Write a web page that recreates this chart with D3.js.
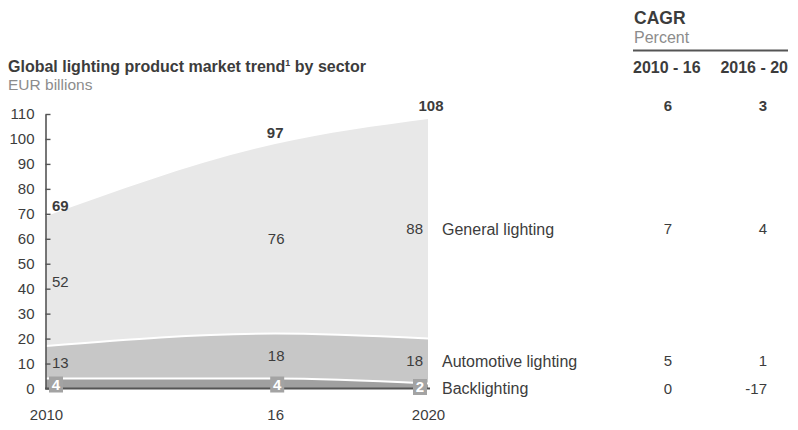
<!DOCTYPE html>
<html>
<head>
<meta charset="utf-8">
<script src="https://cdn.jsdelivr.net/npm/d3@7"></script>
<style>
  html, body { margin: 0; padding: 0; background: #fff; }
  svg { display: block; font-family: "Liberation Sans", Arial, sans-serif; }
</style>
</head>
<body>
<svg id="chart" width="798" height="430"></svg>
<script>
// ---- data ----
const years = [2010, 2016, 2020];
const yearLabels = ["2010", "16", "2020"];
const sectors = ["Backlighting", "Automotive lighting", "General lighting"];
const backlighting = [4, 4, 2];
const automotive = [13, 18, 18];
const general = [52, 76, 88];
const totals = [69, 97, 108];
const yTicks = [0, 10, 20, 30, 40, 50, 60, 70, 80, 90, 100, 110];
const cagrPeriods = ["2010 - 16", "2016 - 20"];
const cagrTotal = [6, 3];
const cagrGeneral = [7, 4];
const cagrAutomotive = [5, 1];
const cagrBacklighting = [0, -17];

// ---- setup ----
const svg = d3.select("#chart");
const ink = "#3c3c3c";
const grey = "#8c8c8c";
const numSize = 15;   // numbers
const wordSize = 16;  // words
const colors = {
  "Backlighting": "#a0a0a0",
  "Automotive lighting": "#c7c7c7",
  "General lighting": "#e8e8e8"
};

const x = d3.scaleLinear().domain([2010, 2020]).range([46, 428]);
const y = d3.scaleLinear().domain([0, 110]).range([388.5, 114]);

const rows = years.map((yr, i) => ({
  year: yr,
  "Backlighting": backlighting[i],
  "Automotive lighting": automotive[i],
  "General lighting": general[i]
}));
const series = d3.stack().keys(sectors)(rows);
const byKey = {};
series.forEach(s => byKey[s.key] = s);

// ---- titles ----
const title = svg.append("text").attr("x", 8).attr("y", 72)
  .attr("font-size", 16).attr("font-weight", "bold").attr("fill", ink);
title.append("tspan").text("Global lighting product market trend");
title.append("tspan").text("1").attr("font-size", 9).attr("dy", -6);
title.append("tspan").text(" by sector").attr("dy", 6);
svg.append("text").attr("x", 8).attr("y", 90).attr("font-size", 15.5)
  .attr("fill", grey).text("EUR billions");

// ---- stacked areas ----
const area = d3.area()
  .x(d => x(d.data.year))
  .y0(d => y(d[0]))
  .y1(d => y(d[1]))
  .curve(d3.curveMonotoneX);

svg.append("g").selectAll("path").data(series).join("path")
  .attr("d", area)
  .attr("fill", d => colors[d.key]);

// white separators on top of the lower two layers
const topLine = d3.line()
  .x(d => x(d.data.year))
  .y(d => y(d[1]))
  .curve(d3.curveMonotoneX);
svg.append("g").selectAll("path")
  .data(series.filter(s => s.key !== "General lighting"))
  .join("path")
  .attr("d", topLine)
  .attr("fill", "none")
  .attr("stroke", "#fff")
  .attr("stroke-width", 2);

// ---- axes ----
const yAxis = svg.append("g")
  .attr("transform", `translate(${x(2010) - 0.5},0)`)
  .call(d3.axisLeft(y).tickValues(yTicks).tickSizeInner(-5).tickSizeOuter(0).tickPadding(11));
yAxis.select(".domain").attr("stroke", "#555").attr("stroke-width", 1.6);
yAxis.selectAll(".tick line").attr("stroke", "#555").attr("stroke-width", 1.4);
yAxis.selectAll(".tick text").attr("font-size", numSize).attr("fill", ink)
  .attr("font-family", "Liberation Sans, Arial, sans-serif");

// baseline
svg.append("line")
  .attr("x1", x(2010) - 1).attr("x2", x(2020) + 2)
  .attr("y1", y(0)).attr("y2", y(0))
  .attr("stroke", "#555").attr("stroke-width", 1.8);

const xAxis = svg.append("g")
  .attr("transform", `translate(0,${y(0)})`)
  .call(d3.axisBottom(x).tickValues(years)
    .tickFormat((d, i) => yearLabels[i]).tickSize(0).tickPadding(21));
xAxis.select(".domain").remove();
xAxis.selectAll(".tick text").attr("font-size", numSize).attr("fill", ink)
  .attr("font-family", "Liberation Sans, Arial, sans-serif");

// ---- value labels ----
const anchors = ["start", "middle", "end"];
const labelDx = [6, 1, -5];

// totals above the stack
const totalDx = [6, 0, 3];
const totalDy = [-5, -8, -8];
const totalAnchor = ["start", "middle", "middle"];
svg.append("g").selectAll("text").data(totals).join("text")
  .attr("x", (d, i) => x(years[i]) + totalDx[i])
  .attr("y", (d, i) => y(d) + totalDy[i])
  .attr("text-anchor", (d, i) => totalAnchor[i])
  .attr("font-size", numSize).attr("font-weight", "bold").attr("fill", ink)
  .text(d => d);

function layerLabels(key, values) {
  const s = byKey[key];
  svg.append("g").selectAll("text").data(values).join("text")
    .attr("x", (d, i) => x(years[i]) + labelDx[i])
    .attr("y", (d, i) => y((s[i][0] + s[i][1]) / 2))
    .attr("dy", "0.36em")
    .attr("text-anchor", (d, i) => anchors[i])
    .attr("font-size", numSize).attr("fill", ink)
    .text(d => d);
}
layerLabels("General lighting", general);
layerLabels("Automotive lighting", automotive);

// boxed labels for the thin backlighting layer
const boxDx = [10, 2, -8];
const bl = byKey["Backlighting"];
const boxes = svg.append("g").selectAll("g").data(backlighting).join("g")
  .attr("transform", (d, i) =>
    `translate(${x(years[i]) + boxDx[i]},${y((bl[i][0] + bl[i][1]) / 2) + 1})`);
boxes.append("rect").attr("x", -7).attr("y", -8).attr("width", 14).attr("height", 16)
  .attr("fill", "#a3a3a3");
boxes.append("text").attr("text-anchor", "middle").attr("dy", "0.36em")
  .attr("font-size", numSize).attr("font-weight", "bold").attr("fill", "#fff")
  .text(d => d);

// ---- sector names ----
const legendX = 442;
const last = years.length - 1;
const legendY = {
  "General lighting": y((byKey["General lighting"][last][0] + byKey["General lighting"][last][1]) / 2),
  "Automotive lighting": y((byKey["Automotive lighting"][last][0] + byKey["Automotive lighting"][last][1]) / 2),
  "Backlighting": y(0)
};
svg.append("g").selectAll("text").data(sectors).join("text")
  .attr("x", legendX).attr("y", d => legendY[d]).attr("dy", "0.36em")
  .attr("font-size", wordSize).attr("fill", ink)
  .text(d => d);

// ---- CAGR table ----
const cagrX = [672, 767];
svg.append("text").attr("x", 634).attr("y", 24).attr("font-size", 17.5)
  .attr("font-weight", "bold").attr("fill", ink).text("CAGR");
svg.append("text").attr("x", 634).attr("y", 43).attr("font-size", wordSize)
  .attr("fill", grey).text("Percent");
svg.append("line").attr("x1", 633).attr("x2", 788).attr("y1", 50.5).attr("y2", 50.5)
  .attr("stroke", "#555").attr("stroke-width", 2);
svg.append("g").selectAll("text").data(cagrPeriods).join("text")
  .attr("x", (d, i) => i === 0 ? 633 : 788)
  .attr("text-anchor", (d, i) => i === 0 ? "start" : "end")
  .attr("y", 73).attr("font-size", wordSize).attr("font-weight", "bold").attr("fill", ink)
  .text(d => d);

const cagrRows = [
  { values: cagrTotal, yPos: y(totals[last]) - 8, bold: true, dy: 0 },
  { values: cagrGeneral, yPos: legendY["General lighting"], bold: false, dy: 0.36 },
  { values: cagrAutomotive, yPos: legendY["Automotive lighting"], bold: false, dy: 0.36 },
  { values: cagrBacklighting, yPos: legendY["Backlighting"], bold: false, dy: 0.36 }
];
cagrRows.forEach(row => {
  svg.append("g").selectAll("text").data(row.values).join("text")
    .attr("x", (d, i) => cagrX[i])
    .attr("y", row.yPos)
    .attr("dy", row.dy + "em")
    .attr("text-anchor", "end")
    .attr("font-size", numSize)
    .attr("font-weight", row.bold ? "bold" : "normal")
    .attr("fill", ink)
    .text(d => d);
});
</script>
</body>
</html>
